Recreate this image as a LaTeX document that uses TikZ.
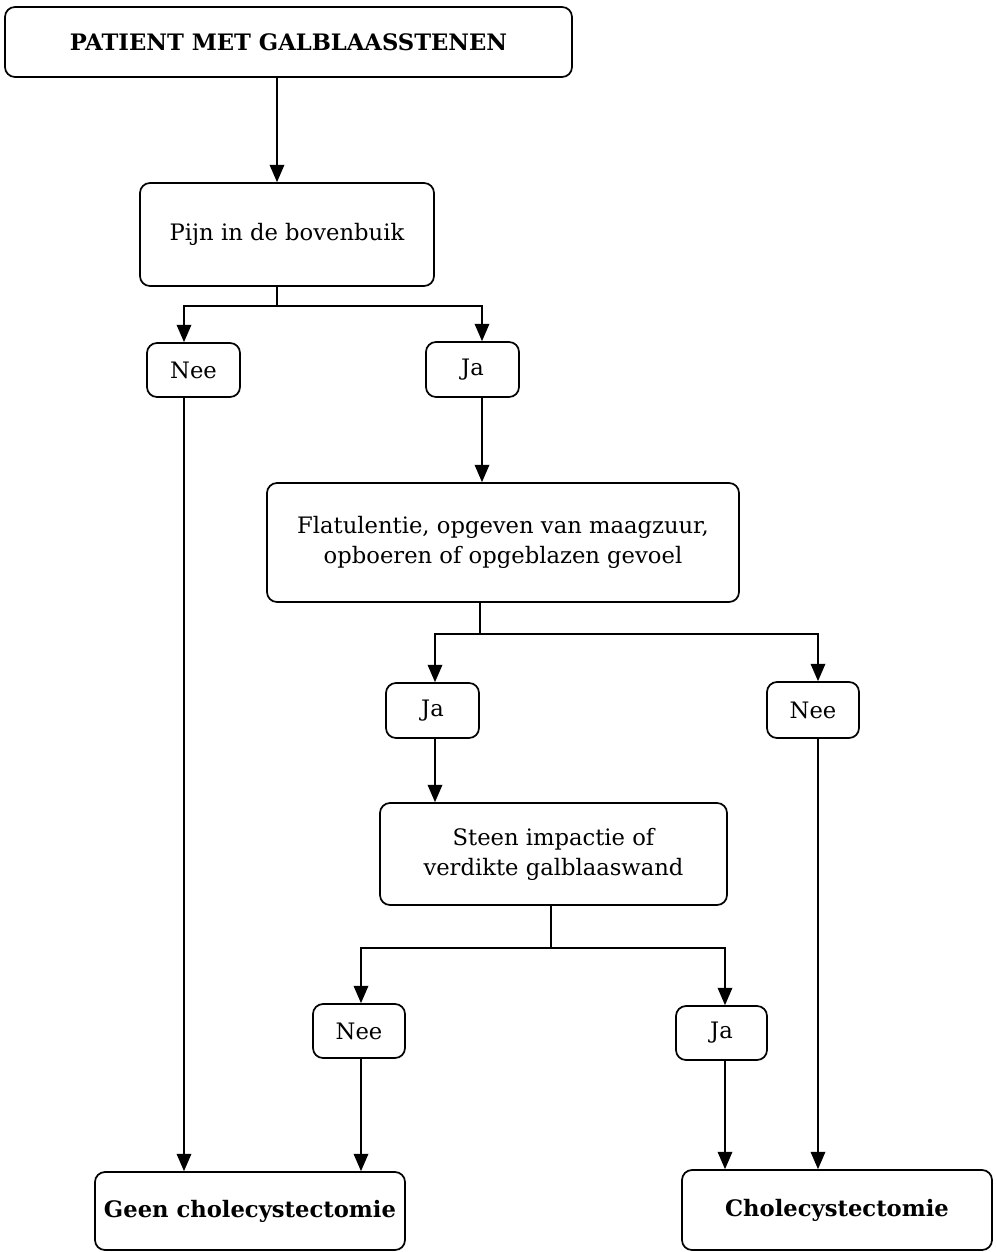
\documentclass[tikz,border=0pt]{standalone}
\usepackage{fontspec}
\setmainfont{DejaVu Serif}
\usetikzlibrary{arrows.meta}
\begin{document}
\begin{tikzpicture}[x=0.75pt,y=-0.75pt,
  box/.style={draw, rounded corners=7.5pt, line width=1.3pt, align=center,
    inner sep=0pt, font=\fontsize{17}{22.5}\selectfont},
  sz/.style 2 args={minimum width={#1*0.75pt}, minimum height={#2*0.75pt}},
  bold/.style={font=\fontsize{17}{22.5}\selectfont\bfseries},
  ln/.style={line width=1pt},
  arr/.style={line width=1pt, -{Triangle[length=13pt,width=11pt]}}]
\useasboundingbox (0,0) rectangle (996,1252);

\node[box, sz={567}{70}, bold] (top) at (288.5,42) {PATIENT MET GALBLAASSTENEN};
\node[box, sz={294}{103}] (pijn) at (287,234.5) {Pijn in de bovenbuik};
\node[box, sz={93}{54}] (nee1) at (193.5,370) {Nee};
\node[box, sz={93}{55}] (ja1) at (472.5,369.5) {Ja};
\node[box, sz={472}{119}] (flat) at (503,542.5) {Flatulentie, opgeven van maagzuur,\\opboeren of opgeblazen gevoel};
\node[box, sz={93}{55}] (ja2) at (432.5,710.5) {Ja};
\node[box, sz={92}{56}] (nee2) at (813,710) {Nee};
\node[box, sz={347}{102}] (steen) at (553.5,854) {Steen impactie of\\verdikte galblaaswand};
\node[box, sz={92}{54}] (nee3) at (359,1031) {Nee};
\node[box, sz={91}{54}] (ja3) at (721.5,1033) {Ja};
\node[box, sz={310}{78}, bold] (geen) at (250,1211) {Geen cholecystectomie};
\node[box, sz={310}{80}, bold] (chole) at (837,1210) {Cholecystectomie};

\coordinate (xa) at (277,0);
\coordinate (xb) at (184,0);
\coordinate (xc) at (482,0);
\coordinate (xd) at (435,0);
\coordinate (xe) at (818,0);
\coordinate (xg) at (361,0);
\coordinate (xh) at (725,0);
\coordinate (j1) at (277,306);
\coordinate (j2) at (480,634);
\coordinate (j3) at (551,948);

\draw[arr] (top.south -| xa) -- (pijn.north -| xa);
\draw[ln] (pijn.south -| xa) -- (j1);
\draw[arr] (j1) -| (nee1.north -| xb);
\draw[arr] (j1) -| (ja1.north -| xc);
\draw[arr] (nee1.south -| xb) -- (geen.north -| xb);
\draw[arr] (ja1.south -| xc) -- (flat.north -| xc);
\draw[ln] (flat.south -| j2) -- (j2);
\draw[arr] (j2) -| (ja2.north -| xd);
\draw[arr] (j2) -| (nee2.north -| xe);
\draw[arr] (ja2.south -| xd) -- (steen.north -| xd);
\draw[ln] (steen.south -| j3) -- (j3);
\draw[arr] (j3) -| (nee3.north -| xg);
\draw[arr] (j3) -| (ja3.north -| xh);
\draw[arr] (nee3.south -| xg) -- (geen.north -| xg);
\draw[arr] (ja3.south -| xh) -- (chole.north -| xh);
\draw[arr] (nee2.south -| xe) -- (chole.north -| xe);
\end{tikzpicture}
\end{document}
